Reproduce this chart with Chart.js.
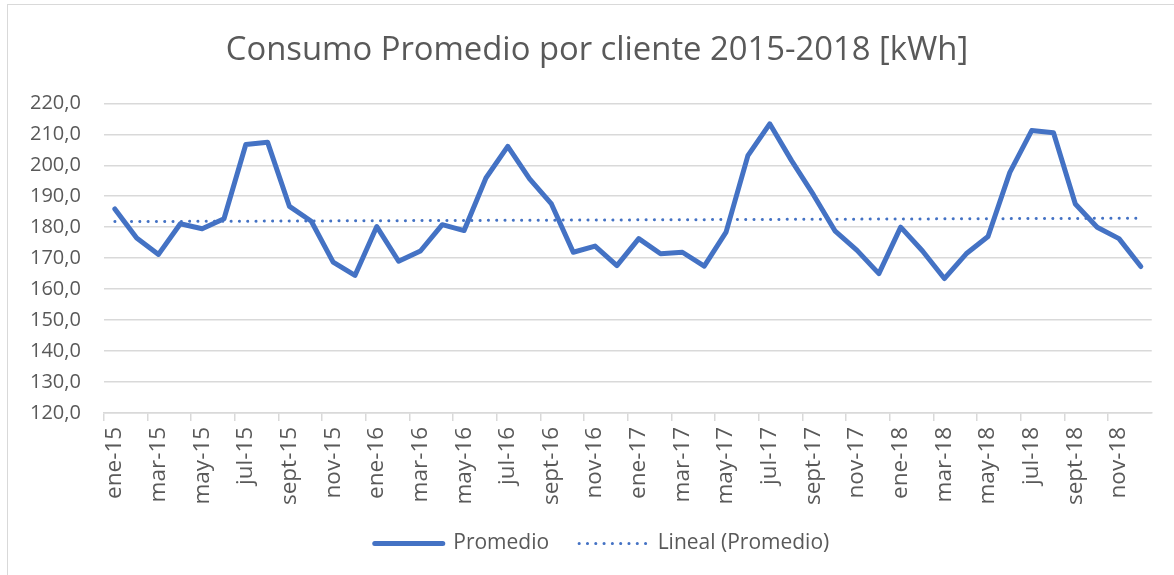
<!DOCTYPE html>
<html>
<head>
<meta charset="utf-8">
<script src="https://cdn.jsdelivr.net/npm/chart.js@4.4.0/dist/chart.umd.min.js"></script>
<style>
  html, body { margin: 0; padding: 0; background: #fff; overflow: hidden; }
  #frame {
    position: absolute; left: 7px; top: 4px; width: 1200px; height: 600px;
    border: 1.5px solid #d9d9d9; box-sizing: border-box;
  }
  #wrap { position: absolute; left: 0; top: 0; width: 1174px; height: 575px; }
</style>
</head>
<body>
<div id="frame"></div>
<div id="wrap"><canvas id="consumoChart"></canvas></div>
<script>
// Months as shown on the axis (every second one is labelled)
const monthNames = ['ene', 'feb', 'mar', 'abr', 'may', 'jun', 'jul', 'ago', 'sept', 'oct', 'nov', 'dic'];
const years = ['15', '16', '17', '18'];

// Average consumption per client [kWh]
const promedio2015 = [185.9, 176.5, 171.2, 181.1, 179.5, 182.7, 206.7, 207.4, 186.7, 181.9, 168.7, 164.4];
const promedio2016 = [180.2, 169.0, 172.3, 180.8, 178.9, 195.9, 206.1, 195.6, 187.5, 171.9, 173.9, 167.6];
const promedio2017 = [176.3, 171.4, 171.9, 167.4, 178.4, 203.1, 213.4, 201.5, 190.5, 178.7, 172.5, 165.0];
const promedio2018 = [180.0, 172.3, 163.4, 171.4, 177.0, 197.7, 211.2, 210.5, 187.5, 180.0, 176.3, 167.3];

// Linear trend (Excel "Lineal"), start and end values
const trendStart = 181.8;
const trendEnd = 182.9;

// Y axis ticks
const yMin = 120;
const yMax = 220;
const yStep = 10;

const BLUE = '#4472C4';
const GREY_TEXT = '#595959';
const GRID = '#d9d9d9';

const labels = [];
years.forEach(y => monthNames.forEach(m => labels.push(m + '-' + y)));
const promedio = [].concat(promedio2015, promedio2016, promedio2017, promedio2018);
const lastIdx = labels.length - 1;
const trend = labels.map((_, i) => i === 0 ? trendStart : (i === lastIdx ? trendEnd : null));

Chart.defaults.font.family = "'Open Sans', sans-serif";
Chart.defaults.color = GREY_TEXT;

// Excel centres title and legend on the whole chart frame and keeps the
// legend a bit closer to the axis labels than Chart.js does
const nudgeBoxes = {
  id: 'nudgeBoxes',
  afterLayout(chart) {
    if (chart.titleBlock) {
      chart.titleBlock.left += 15;
      chart.titleBlock.right += 15;
    }
    if (chart.legend) {
      chart.legend.top -= 8;
      chart.legend.bottom -= 8;
      chart.legend.left += 20;
      chart.legend.right += 20;
    }
  }
};

new Chart(document.getElementById('consumoChart'), {
  type: 'line',
  data: {
    labels: labels,
    datasets: [
      {
        label: 'Promedio',
        data: promedio,
        borderColor: BLUE,
        backgroundColor: BLUE,
        borderWidth: 5,
        borderJoinStyle: 'round',
        borderCapStyle: 'round',
        pointRadius: 0,
        tension: 0,
      },
      {
        label: 'Lineal (Promedio)',
        data: trend,
        spanGaps: true,
        borderColor: BLUE,
        backgroundColor: BLUE,
        borderWidth: 3,
        borderDash: [0.1, 8.2],
        borderCapStyle: 'round',
        pointRadius: 0,
      }
    ]
  },
  plugins: [nudgeBoxes],
  options: {
    responsive: true,
    maintainAspectRatio: false,
    animation: false,
    layout: { padding: { left: 7, right: 17, top: 0, bottom: 3 } },
    plugins: {
      title: {
        display: true,
        text: 'Consumo Promedio por cliente 2015-2018 [kWh]',
        color: GREY_TEXT,
        font: { size: 32.8, weight: 'normal' },
        padding: { top: 31, bottom: 33 },
      },
      legend: {
        position: 'bottom',
        labels: {
          usePointStyle: true,
          pointStyleWidth: 68,
          boxHeight: 20,
          padding: 30,
          color: GREY_TEXT,
          font: { size: 21 },
          generateLabels: (chart) => chart.data.datasets.map((ds, i) => ({
            text: ds.label,
            datasetIndex: i,
            pointStyle: 'line',
            strokeStyle: ds.borderColor,
            fillStyle: ds.borderColor,
            lineWidth: ds.borderWidth,
            lineDash: ds.borderDash || [],
            lineCap: 'round',
            fontColor: GREY_TEXT,
          })),
        },
      },
      tooltip: { enabled: false },
    },
    scales: {
      x: {
        offset: true,
        grid: {
          offset: true,
          drawOnChartArea: false,
          tickLength: 8,
          lineWidth: 1.5,
          tickColor: (ctx) => ctx.index % 2 === 0 ? GRID : 'rgba(0,0,0,0)',
        },
        border: { display: true, color: GRID, width: 1.5 },
        ticks: {
          autoSkip: false,
          minRotation: 90,
          maxRotation: 90,
          padding: 6,
          color: GREY_TEXT,
          font: { size: 22.5 },
          callback: function(value, index) {
            return index % 2 === 0 ? this.getLabelForValue(value) : '';
          },
        },
      },
      y: {
        min: yMin,
        max: yMax,
        grid: { color: GRID, lineWidth: 1.5, drawTicks: false },
        border: { display: false },
        ticks: {
          stepSize: yStep,
          padding: 23,
          color: GREY_TEXT,
          font: { size: 20 },
          callback: (v) => v.toFixed(1).replace('.', ','),
        },
      },
    },
  },
});
</script>
</body>
</html>
